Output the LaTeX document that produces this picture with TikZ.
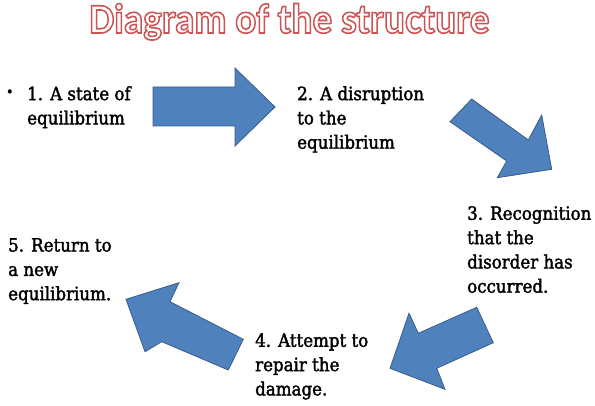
\documentclass[tikz,border=0pt]{standalone}
\usepackage{fontspec}
\setmainfont{DejaVu Serif}
\newfontfamily\stepfont{DejaVu Serif}[FakeStretch=0.91]
\newfontfamily\titlefont{Carlito Bold}
\definecolor{arrowfill}{HTML}{4F81BD}
\definecolor{arrowline}{HTML}{385D8A}
\newcommand{\outlinetext}[1]{{\color{white}\special{pdf:literal direct 2 Tr 1.6 w 0.80 0.33 0.33 RG}#1\special{pdf:literal direct 0 Tr}}}
\begin{document}
\begin{tikzpicture}[x=1pt,y=-1pt,
  bigarrow/.style={fill=arrowfill,draw=arrowline,line width=0.8pt,line join=miter},
  steptext/.style={anchor=north west,inner sep=0pt,align=left,font=\stepfont\fontsize{18.3}{24.3}\selectfont,text=black,
    execute at begin node={\special{pdf:literal direct 2 Tr 0.35 w 0 0 0 RG}},
    execute at end node={\special{pdf:literal direct 0 Tr}}}]
\useasboundingbox (0,0) rectangle (595,406);
\fill[white] (0,0) rectangle (595,406);
% title
\node[anchor=base,inner sep=0pt,font=\titlefont\fontsize{42}{42}\selectfont] (title) at (289.5,33) {\scalebox{0.936}[1]{\outlinetext{Diagram of the structure}}};
% arrows
\draw[bigarrow] (153,87) -- (235,87) -- (235,68) -- (275,107) -- (235,146) -- (235,126) -- (153,126) -- cycle;
\draw[bigarrow] (471.7,99) -- (528.3,140) -- (541.7,115) -- (551.7,169.3) -- (497.3,177.7) -- (506.7,161) -- (450,121.7) -- cycle;
\draw[bigarrow] (476.7,307.3) -- (493.3,342.7) -- (436.7,368.3) -- (445,389.3) -- (390,368.3) -- (409,313.3) -- (418.3,333.3) -- cycle;
\draw[bigarrow] (126,299.3) -- (179,282.7) -- (170,301.7) -- (243.3,339.3) -- (228.3,370) -- (161.7,341.7) -- (145,351.7) -- cycle;
% labels
\node[anchor=base,inner sep=0pt,font=\stepfont\fontsize{15}{24}\selectfont] (bullet) at (10,98) {•};
\node[steptext] (s1) at (27,86) {1. A state of\\equilibrium};
\node[steptext] (s2) at (297,86) {2. A disruption\\to the\\equilibrium};
\node[steptext] (s3) at (467,206) {3. Recognition\\that the\\disorder has\\occurred.};
\node[steptext] (s4) at (255,333) {4. Attempt to\\repair the\\damage.};
\node[steptext] (s5) at (8,238) {5. Return to\\a new\\equilibrium.};
\end{tikzpicture}
\end{document}
